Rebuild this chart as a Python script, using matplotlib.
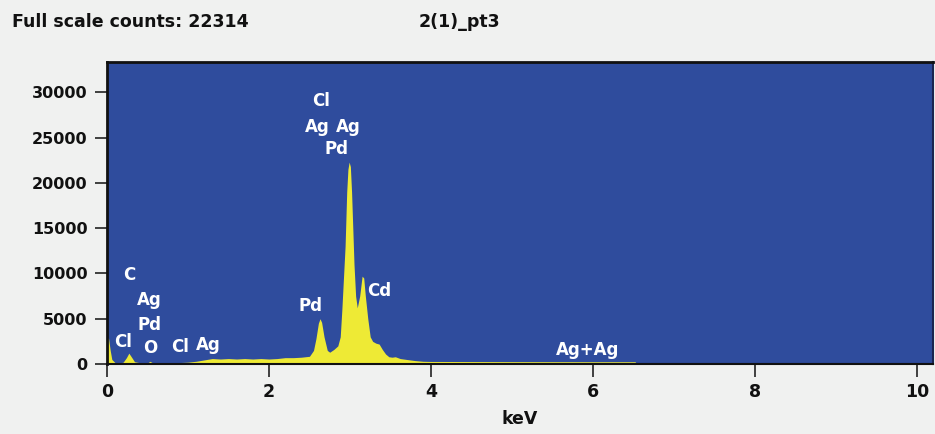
import numpy as np
import matplotlib.pyplot as plt

# EDS spectrum (keV, counts)
energy = [0.00, 0.02, 0.04, 0.06, 0.10, 0.15, 0.20, 0.24, 0.27, 0.30, 0.34, 0.40,
          0.50, 0.53, 0.56, 0.60, 0.80, 1.00, 1.10, 1.20, 1.30, 1.40, 1.50, 1.60,
          1.70, 1.80, 1.90, 2.00, 2.10, 2.20, 2.30, 2.40, 2.50, 2.55, 2.58, 2.61,
          2.63, 2.65, 2.68, 2.72, 2.75, 2.80, 2.85, 2.88, 2.90, 2.92, 2.94, 2.96,
          2.975, 2.99, 3.005, 3.02, 3.035, 3.05, 3.07, 3.09, 3.12, 3.15, 3.17, 3.19,
          3.22, 3.25, 3.28, 3.32, 3.36, 3.40, 3.44, 3.48, 3.52, 3.56, 3.62, 3.70,
          3.80, 3.90, 4.00, 5.00, 6.00, 6.52, 6.54, 10.2]
counts = [3000, 2800, 1500, 500, 150, 100, 200, 700, 1200, 800, 250, 150,
          100, 300, 150, 150, 120, 200, 300, 450, 600, 550, 600, 550,
          600, 550, 600, 550, 600, 700, 700, 750, 850, 1500, 2800, 4500,
          5000, 4600, 3000, 1500, 1300, 1600, 2000, 3000, 6000, 9500, 13000, 19000,
          21500, 22300, 21800, 19000, 15000, 11000, 7500, 6200, 7500, 9700, 9500, 7500,
          5000, 3000, 2500, 2300, 2200, 1600, 1100, 800, 750, 800, 600, 500,
          380, 300, 280, 260, 250, 250, 0, 0]

# peak labels: text, keV, counts
labels = ['Cl', 'C', 'Ag', 'Pd', 'O', 'Cl', 'Ag', 'Cl', 'Ag', 'Ag', 'Pd', 'Cd', 'Pd', 'Ag+Ag']
label_e = [0.20, 0.27, 0.52, 0.52, 0.54, 0.90, 1.25, 2.64, 2.60, 2.98, 2.84, 3.36, 2.51, 5.94]
label_c = [2400, 9800, 7100, 4300, 1800, 1900, 2100, 29100, 26200, 26200, 23700, 8100, 6400, 1600]

xticks = [0, 2, 4, 6, 8, 10]
yticks = [0, 5000, 10000, 15000, 20000, 25000, 30000]

bg = '#f0f1f0'
fig = plt.figure(figsize=(9.35, 4.34), dpi=100, facecolor=bg)
ax = fig.add_axes([0.1144, 0.1613, 0.8836, 0.6947])
ax.set_facecolor('#2f4c9d')

ax.fill_between(energy, counts, 0, color='#eeea35', lw=0)
ax.plot([6.54, 10.2], [0, 0], color='#1a2550', lw=1.5)

ax.set_xlim(0, 10.2)
ax.set_ylim(0, 33300)
ax.set_xticks(xticks)
ax.set_yticks(yticks)

tick_font = dict(family='DejaVu Sans', weight='bold', size=12.5)
ax.set_xticklabels([str(t) for t in xticks], fontdict=tick_font, color='#111111')
ax.set_yticklabels([str(t) for t in yticks], fontdict=dict(family='DejaVu Sans', weight='bold', size=11.5),
                   color='#111111')
ax.tick_params(axis='both', direction='out', length=9, width=1.2, color='#222222', pad=5)
ax.set_xlabel('keV', fontdict=tick_font, color='#111111', labelpad=6)

for side in ['left', 'top']:
    ax.spines[side].set_color('#111111')
    ax.spines[side].set_linewidth(2)
ax.spines['bottom'].set_color('#111111')
ax.spines['bottom'].set_linewidth(1.5)
ax.spines['right'].set_color('#1a2550')
ax.spines['right'].set_linewidth(1.5)

for t, e, c in zip(labels, label_e, label_c):
    ax.text(e, c, t, color='white', fontsize=12, weight='bold', ha='center', va='center',
            family='DejaVu Sans')

head = dict(family='DejaVu Sans', weight='bold', size=12.5, color='#111111')
fig.text(12 / 935, 1 - 22 / 434, 'Full scale counts: 22314', ha='left', va='center', **head)
fig.text(459 / 935, 1 - 22 / 434, '2(1)_pt3', ha='center', va='center', **head)

fig.savefig('out.png', dpi=100, facecolor=bg)
